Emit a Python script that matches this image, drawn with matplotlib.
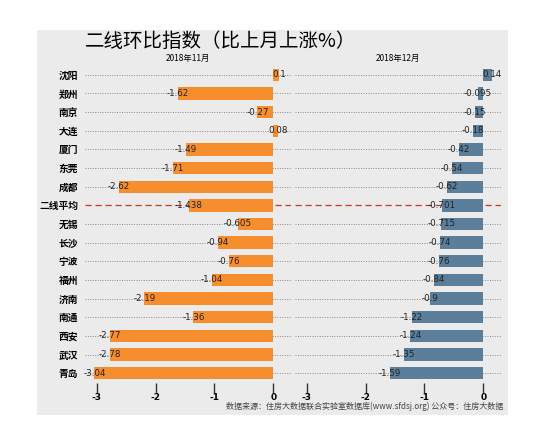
import matplotlib
matplotlib.use("Agg")
import matplotlib.pyplot as plt
from matplotlib.patches import Rectangle

plt.rcParams['font.family'] = ['Noto Sans CJK SC', 'DejaVu Sans']

cities = ["沈阳", "郑州", "南京", "大连", "厦门", "东莞", "成都", "二线平均", "无锡",
          "长沙", "宁波", "福州", "济南", "南通", "西安", "武汉", "青岛"]
nov = [0.1, -1.62, -0.27, 0.08, -1.49, -1.71, -2.62, -1.438, -0.605,
       -0.94, -0.76, -1.04, -2.19, -1.36, -2.77, -2.78, -3.04]
dec = [0.14, -0.095, -0.15, -0.18, -0.42, -0.54, -0.62, -0.701, -0.715,
       -0.74, -0.76, -0.84, -0.9, -1.22, -1.24, -1.35, -1.59]
nov_labels = ["0.1", "-1.62", "-0.27", "0.08", "-1.49", "-1.71", "-2.62", "-1.438", "-0.605",
              "-0.94", "-0.76", "-1.04", "-2.19", "-1.36", "-2.77", "-2.78", "-3.04"]
dec_labels = ["0.14", "-0.095", "-0.15", "-0.18", "-0.42", "-0.54", "-0.62", "-0.701", "-0.715",
              "-0.74", "-0.76", "-0.84", "-0.9", "-1.22", "-1.24", "-1.35", "-1.59"]
panel_titles = ["2018年11月", "2018年12月"]
xticks = [-3, -2, -1, 0]
avg_name = "二线平均"

W, H = 546, 445
fig = plt.figure(figsize=(W / 100, H / 100), dpi=100)
fig.patch.set_facecolor("white")
bg = Rectangle((37 / W, 1 - 415 / H), 471 / W, 385 / H,
               transform=fig.transFigure, facecolor="#ebebeb",
               edgecolor="none", zorder=-10)
fig.patches.append(bg)

bottom = 1 - 382.5 / H
height = 317 / H
ax1 = fig.add_axes([85 / W, bottom, 206 / W, height])
ax2 = fig.add_axes([295 / W, bottom, 206 / W, height])

ypos = list(range(len(cities)))
for ax, vals, labs, color, ttl in [(ax1, nov, nov_labels, "#f78e2e", panel_titles[0]),
                                   (ax2, dec, dec_labels, "#5b7e9b", panel_titles[1])]:
    ax.set_facecolor("none")
    ax.patch.set_alpha(0)
    ax.set_xlim(-3.2, 0.3)
    ax.set_ylim(len(cities) - 0.5, -0.5)
    for y, c in zip(ypos, cities):
        if c == avg_name:
            ax.axhline(y, color="#c23b2a", lw=0.9, ls=(0, (5, 3)), zorder=1)
        else:
            ax.axhline(y, color="#888888", lw=0.7, ls=(0, (1, 1.5)), zorder=1)
    ax.barh(ypos, vals, height=0.66, color=color, zorder=2)
    for y, v, t in zip(ypos, vals, labs):
        ax.text(v, y, t, ha="center", va="center", fontsize=6.3, color="#222222",
                family=["DejaVu Sans"], zorder=3)
    for s in ax.spines.values():
        s.set_visible(False)
    ax.set_xticks(xticks)
    ax.set_xticklabels([str(t) for t in xticks], fontsize=6.5, fontweight="bold",
                       family=["DejaVu Sans"])
    ax.tick_params(axis="x", length=7, width=1.0, color="#333333", pad=0.5)

fig.text((85 + 103) / W, 1 - 58 / H, panel_titles[0], ha="center", va="center", fontsize=6)
fig.text((295 + 103) / W, 1 - 58 / H, panel_titles[1], ha="center", va="center", fontsize=6)

ax1.set_yticks(ypos)
ax1.set_yticklabels(cities, fontsize=7, fontweight="bold")
ax1.tick_params(axis="y", length=0, pad=5)
ax2.set_yticks([])

fig.text(85 / W, 1 - 41 / H, "二线环比指数（比上月上涨%）", fontsize=14,
         ha="left", va="center")
fig.text(503 / W, 1 - 406 / H,
         "数据来源：住房大数据联合实验室数据库(www.sfdsj.org) 公众号：住房大数据",
         fontsize=5.8, color="#444444", ha="right", va="center")

fig.savefig("out.png", dpi=100)
